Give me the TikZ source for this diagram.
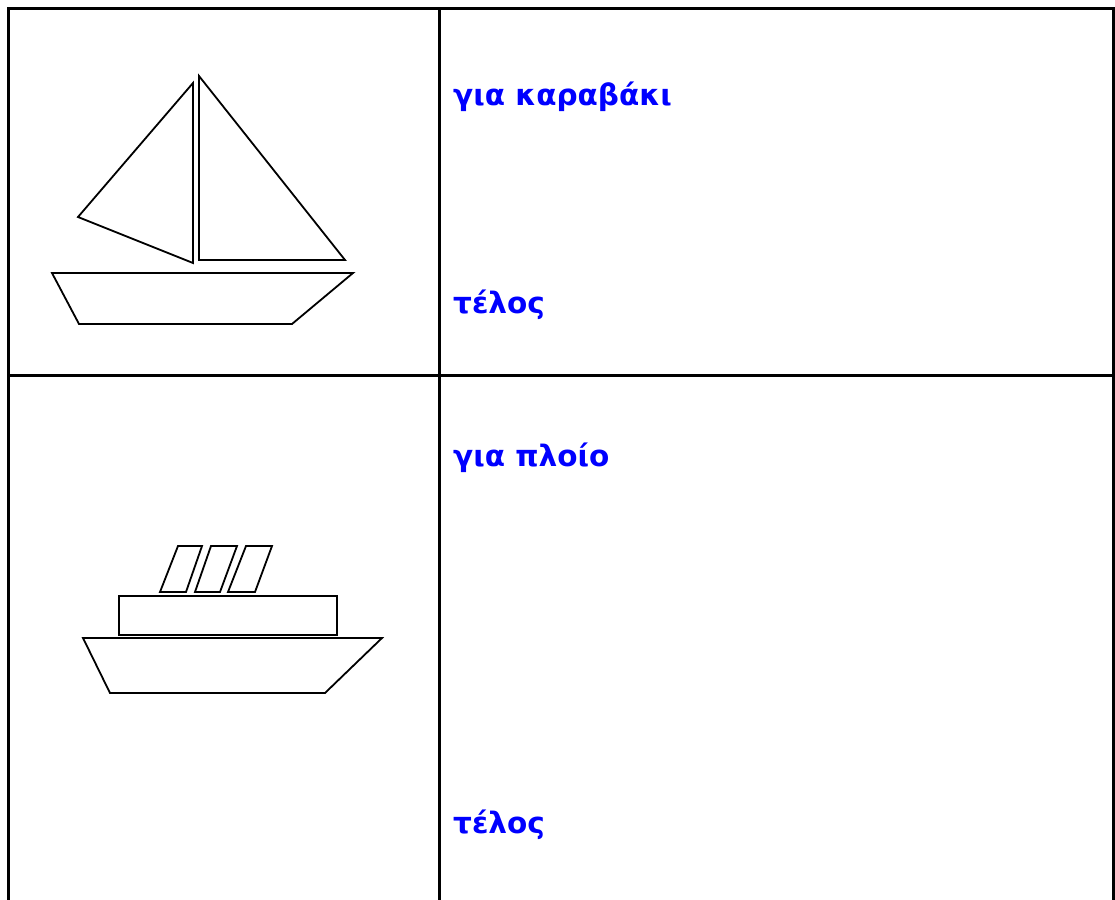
\documentclass[tikz,border=0pt]{standalone}
\usepackage{fontspec}
\setmainfont{DejaVu Sans}
\begin{document}
\begin{tikzpicture}[x=1pt,y=-1pt,
  frame/.style={line width=3pt,black},
  sketch/.style={line width=1.8pt,black,line join=miter},
  thick sketch/.style={line width=2.8pt,black},
  label/.style={anchor=base west,inner sep=0pt,text=blue,font=\fontsize{29.5}{34}\selectfont\bfseries}]
\useasboundingbox (0,0) rectangle (1115,899);
% table frame
\draw[frame] (8,910) -- (8,9) -- (1113.5,9) -- (1113.5,910);
\draw[frame] (439,9) -- (439,910);
\draw[frame] (8,375) -- (1113.5,375);
% sailboat
\draw[sketch] (193,83) -- (78,217) -- (193,263) -- cycle;
\draw[sketch] (199,76) -- (345,260) -- (199,260) -- cycle;
\draw[sketch] (52,273) -- (353,273) -- (292,324) -- (79,324) -- cycle;
% ship
\draw[sketch] (178,546) -- (202,546) -- (186,592) -- (160,592) -- cycle;
\draw[sketch] (211,546) -- (237,546) -- (220,592) -- (195,592) -- cycle;
\draw[sketch] (246,546) -- (272,546) -- (255,592) -- (228,592) -- cycle;
\draw[thick sketch] (119,596) rectangle (337,635);
\draw[sketch] (83,638) -- (382,638) -- (325,693) -- (110,693) -- cycle;
% texts
\node[label] (t1) at (453,105) {για καραβάκι};
\node[label] (t2) at (453,313) {τέλος};
\node[label] (t3) at (453,466) {για πλοίο};
\node[label] (t4) at (453,833) {τέλος};
\end{tikzpicture}
\end{document}
